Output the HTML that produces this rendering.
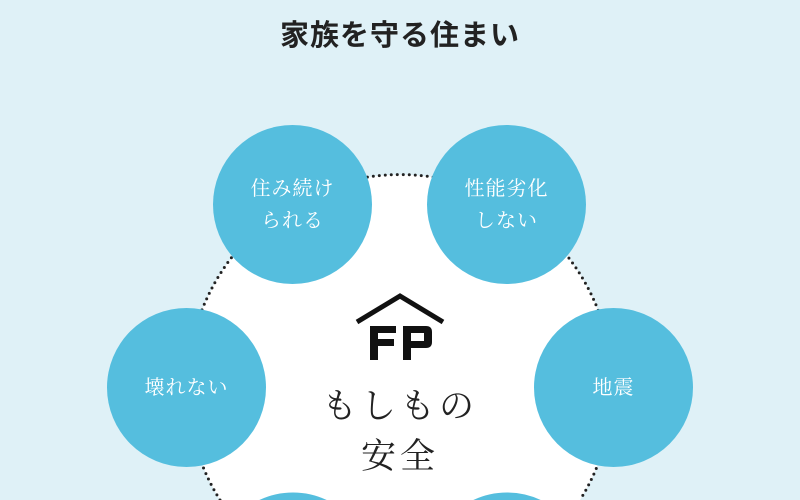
<!DOCTYPE html>
<html><head><meta charset="utf-8"><style>
html,body{margin:0;padding:0;width:800px;height:500px;overflow:hidden}
body{background:#dff1f7;font-family:"Liberation Sans","Noto Sans CJK JP",sans-serif}
.wrap{position:relative;width:800px;height:500px;overflow:hidden}
.title{position:absolute;top:12px;left:0;width:800px;text-align:center;font-size:29px;font-weight:bold;color:#222;letter-spacing:1px}
.c{position:absolute;width:159px;height:159px;border-radius:50%;background:#55bede;color:#fff;display:flex;align-items:center;justify-content:center;text-align:center;font-family:"Liberation Serif","Noto Serif CJK SC",serif;font-size:20px;line-height:32px;letter-spacing:1px}
.center{position:absolute;left:300px;top:382px;width:200px;text-align:center;font-family:"Liberation Serif","Noto Serif CJK SC",serif;font-size:35px;line-height:50px;color:#222;letter-spacing:4px}
</style></head><body><div class="wrap">
<svg style="position:absolute;left:0;top:0" width="800" height="500" viewBox="0 0 800 500">
<path d="M220,500 A212.5,212.5 0 1 1 580,500 Z" fill="#fff"/>
<path d="M220,500 A212.5,212.5 0 1 1 580,500" fill="none" stroke="#222" stroke-width="3" stroke-linecap="round" stroke-dasharray="0 6"/>
<path d="M259.3,500 A79.5,79.5 0 0 1 326.7,500 Z" fill="#55bede"/>
<path d="M473.3,500 A79.5,79.5 0 0 1 540.7,500 Z" fill="#55bede"/>
</svg>
<div class="title">家族を守る住まい</div>
<div class="c" style="left:213px;top:125px">住み続け<br>られる</div>
<div class="c" style="left:427px;top:125px">性能劣化<br>しない</div>
<div class="c" style="left:107px;top:308px">壊れない</div>
<div class="c" style="left:534px;top:308px">地震</div>
<svg style="position:absolute;left:350px;top:288px" width="100" height="80" viewBox="0 0 100 80">
<polyline points="7,34 50,8 93,34" fill="none" stroke="#111" stroke-width="5"/>
<path d="M20,38 H46 V45 H28 V51 H44 V58 H28 V72 H20 Z" fill="#111"/>
<path d="M53,38 H76 Q82,38 82,44 V54 Q82,60 76,60 H61 V72 H53 Z M61,45 V53 H74 V45 Z" fill="#111" fill-rule="evenodd"/>
</svg>
<div class="center">もしもの<br>安全</div>
</div></body></html>
